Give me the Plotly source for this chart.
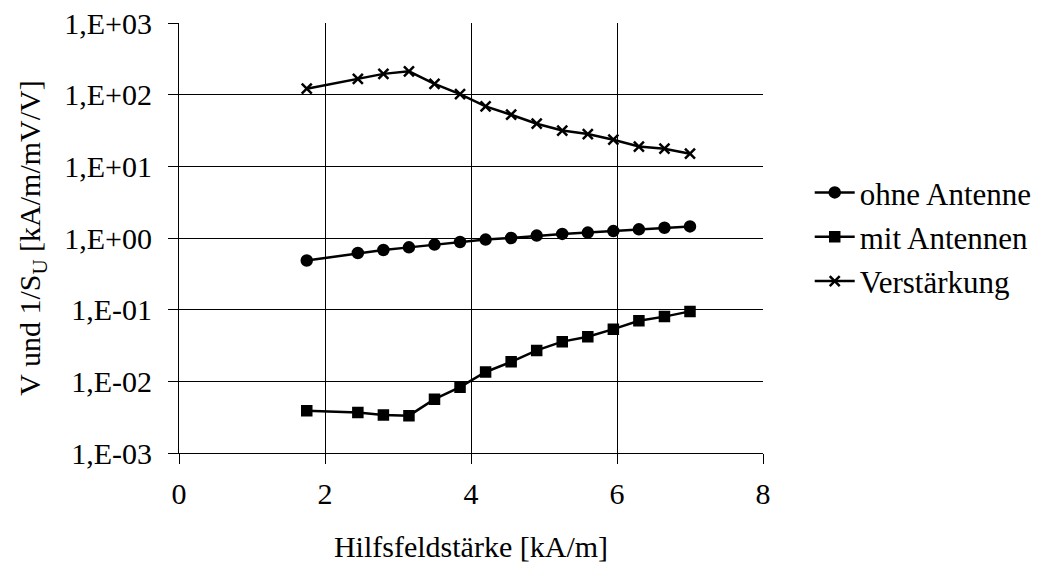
import plotly.graph_objects as go

x_vals = [1.75, 2.45, 2.8, 3.15, 3.5, 3.85, 4.2, 4.55, 4.9, 5.25, 5.6, 5.95, 6.3, 6.65, 7.0]
ohne_antenne = [0.486, 0.617, 0.68, 0.74, 0.81, 0.88, 0.95, 1.0, 1.08, 1.14, 1.19, 1.25, 1.32, 1.39, 1.45]
mit_antennen = [0.0039, 0.00366, 0.0034, 0.00332, 0.00564, 0.0083, 0.0135, 0.0187, 0.027, 0.0358,
                0.042, 0.0535, 0.070, 0.080, 0.0946]
verstaerkung = [121, 166, 195, 212, 141, 102, 68.5, 52.5, 39.3, 31.6, 28.2, 23.5, 18.9, 17.6, 15.0]

y_tickvals = [1e-3, 1e-2, 1e-1, 1, 10, 100, 1000]
y_ticktext = ["1,E-03", "1,E-02", "1,E-01", "1,E+00", "1,E+01", "1,E+02", "1,E+03"]
x_tickvals = [0, 2, 4, 6, 8]

FONT = "Liberation Serif"
FS = 30

fig = go.Figure()
series = [
    ("ohne Antenne", ohne_antenne, "circle", 10),
    ("mit Antennen", mit_antennen, "square", 9),
    ("Verstärkung", verstaerkung, "x-thin", 10),
]
for i, (name, vals, sym, sz) in enumerate(series):
    fig.add_trace(go.Scatter(
        x=x_vals, y=vals, name=name, mode="lines+markers",
        line=dict(color="black", width=2.5),
        marker=dict(symbol=sym, size=sz, color="black",
                    line=dict(color="black", width=2.5)),
        legendgroup=f"g{i}",
    ))

fig.update_layout(
    width=1048, height=572,
    margin=dict(l=179, r=285, t=23, b=119, autoexpand=False),
    paper_bgcolor="white", plot_bgcolor="white",
    font=dict(family=FONT, size=FS, color="black"),
    showlegend=True,
    legend=dict(x=1.08, y=0.668, xanchor="left", yanchor="top",
                font=dict(family=FONT, size=31, color="black"),
                tracegroupgap=1, bgcolor="rgba(0,0,0,0)", itemwidth=40),
    xaxis=dict(
        range=[0, 8], tickvals=x_tickvals, ticks="outside", ticklen=10,
        tickcolor="black", tickwidth=1,
        showline=True, linecolor="black", linewidth=1,
        showgrid=True, gridcolor="black", gridwidth=1,
        zeroline=False,
        title=dict(text="Hilfsfeldstärke [kA/m]", standoff=26,
                   font=dict(family=FONT, size=FS)),
        tickfont=dict(family=FONT, size=FS),
        ticklabelstandoff=4,
    ),
    yaxis=dict(
        type="log", range=[-3, 3], tickvals=y_tickvals, ticktext=y_ticktext,
        ticks="outside", ticklen=10, tickcolor="black", tickwidth=1,
        showline=True, linecolor="black", linewidth=1,
        showgrid=True, gridcolor="black", gridwidth=1,
        zeroline=False,
        title=dict(text="V und 1/S<sub>U</sub> [kA/m/mV/V]", standoff=14,
                   font=dict(family=FONT, size=FS)),
        tickfont=dict(family=FONT, size=FS),
        ticklabelstandoff=10,
    ),
)

fig.write_html("out.html")
